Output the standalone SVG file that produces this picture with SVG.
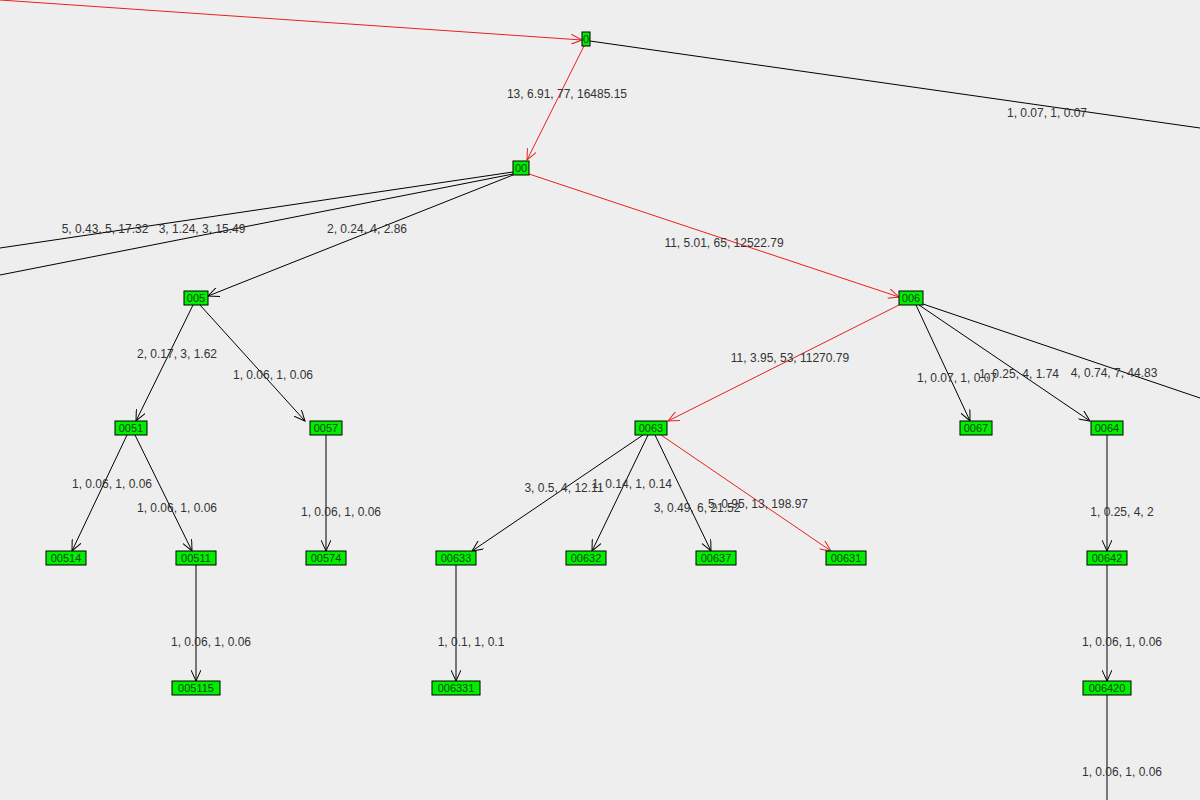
<svg xmlns="http://www.w3.org/2000/svg" width="1200" height="800" viewBox="0 0 1200 800">
<style>
.n rect{fill:#00ee00;stroke:#000;stroke-width:1}
.n text{font-family:"Liberation Sans",Arial,sans-serif;font-size:11px;fill:#114411;text-anchor:middle}
.e line{stroke:#000;stroke-width:1;fill:none}
.e line.r{stroke:#e82020}
.l{font-family:"Liberation Sans",Arial,sans-serif;font-size:12px;fill:#333;text-anchor:middle}
</style>
<defs>
<marker id="a" markerWidth="12" markerHeight="10" refX="11" refY="5" orient="auto" markerUnits="userSpaceOnUse"><path d="M0,0 L11,5 L0,10" fill="none" stroke="#000"/></marker>
<marker id="ar" markerWidth="12" markerHeight="10" refX="11" refY="5" orient="auto" markerUnits="userSpaceOnUse"><path d="M0,0 L11,5 L0,10" fill="none" stroke="#e82020"/></marker>
</defs>
<rect width="1200" height="800" fill="#eeeeee"/>
<g id="connectors" class="e">
<line class="r" x1="0" y1="0" x2="582" y2="40" marker-end="url(#ar)"/>
<line x1="590" y1="41" x2="1200" y2="128"/>
<line class="r" x1="584" y1="46" x2="527" y2="160" marker-end="url(#ar)"/>
<line x1="513" y1="172" x2="0" y2="248"/>
<line x1="513" y1="174" x2="0" y2="275"/>
<line x1="513" y1="175" x2="208" y2="296" marker-end="url(#a)"/>
<line class="r" x1="529" y1="174" x2="899" y2="297" marker-end="url(#ar)"/>
<line x1="193" y1="305" x2="136" y2="421" marker-end="url(#a)"/>
<line x1="200" y1="305" x2="305" y2="421" marker-end="url(#a)"/>
<line class="r" x1="899" y1="305" x2="668" y2="421" marker-end="url(#ar)"/>
<line x1="916" y1="305" x2="970" y2="421" marker-end="url(#a)"/>
<line x1="919" y1="305" x2="1090" y2="421" marker-end="url(#a)"/>
<line x1="923" y1="304" x2="1200" y2="398"/>
<line x1="127" y1="435" x2="72" y2="551" marker-end="url(#a)"/>
<line x1="135" y1="435" x2="192" y2="551" marker-end="url(#a)"/>
<line x1="326" y1="435" x2="326" y2="551" marker-end="url(#a)"/>
<line x1="643" y1="435" x2="472" y2="551" marker-end="url(#a)"/>
<line x1="648" y1="435" x2="592" y2="551" marker-end="url(#a)"/>
<line x1="655" y1="435" x2="711" y2="551" marker-end="url(#a)"/>
<line class="r" x1="661" y1="435" x2="831" y2="551" marker-end="url(#ar)"/>
<line x1="1107" y1="435" x2="1107" y2="551" marker-end="url(#a)"/>
<line x1="196" y1="565" x2="196" y2="681" marker-end="url(#a)"/>
<line x1="456" y1="565" x2="456" y2="681" marker-end="url(#a)"/>
<line x1="1107" y1="565" x2="1107" y2="681" marker-end="url(#a)"/>
<line x1="1107" y1="695" x2="1107" y2="800"/>
</g>
<g id="labels">
<text class="l" x="567" y="98">13, 6.91, 77, 16485.15</text>
<text class="l" x="1047" y="117">1, 0.07, 1, 0.07</text>
<text class="l" x="105" y="233">5, 0.43, 5, 17.32</text>
<text class="l" x="202" y="233">3, 1.24, 3, 15.49</text>
<text class="l" x="367" y="233">2, 0.24, 4, 2.86</text>
<text class="l" x="724" y="247">11, 5.01, 65, 12522.79</text>
<text class="l" x="177" y="358">2, 0.17, 3, 1.62</text>
<text class="l" x="273" y="379">1, 0.06, 1, 0.06</text>
<text class="l" x="790" y="362">11, 3.95, 53, 11270.79</text>
<text class="l" x="957" y="382">1, 0.07, 1, 0.07</text>
<text class="l" x="1019" y="378">1, 0.25, 4, 1.74</text>
<text class="l" x="1114" y="377">4, 0.74, 7, 44.83</text>
<text class="l" x="112" y="488">1, 0.06, 1, 0.06</text>
<text class="l" x="177" y="512">1, 0.06, 1, 0.06</text>
<text class="l" x="341" y="516">1, 0.06, 1, 0.06</text>
<text class="l" x="564" y="492">3, 0.5, 4, 12.11</text>
<text class="l" x="632" y="488">1, 0.14, 1, 0.14</text>
<text class="l" x="697" y="512">3, 0.49, 6, 21.52</text>
<text class="l" x="758" y="508">5, 0.95, 13, 198.97</text>
<text class="l" x="1122" y="516">1, 0.25, 4, 2</text>
<text class="l" x="211" y="646">1, 0.06, 1, 0.06</text>
<text class="l" x="471" y="646">1, 0.1, 1, 0.1</text>
<text class="l" x="1122" y="646">1, 0.06, 1, 0.06</text>
<text class="l" x="1122" y="776">1, 0.06, 1, 0.06</text>
</g>
<g id="n0" class="n"><rect x="582" y="32" width="8" height="14"/><text x="586" y="43">0</text></g>
<g id="n00" class="n"><rect x="513" y="161" width="16" height="14"/><text x="521" y="172">00</text></g>
<g id="n005" class="n"><rect x="184" y="291" width="24" height="14"/><text x="196" y="302">005</text></g>
<g id="n006" class="n"><rect x="899" y="291" width="24" height="14"/><text x="911" y="302">006</text></g>
<g id="n0051" class="n"><rect x="115" y="421" width="32" height="14"/><text x="131" y="432">0051</text></g>
<g id="n0057" class="n"><rect x="310" y="421" width="32" height="14"/><text x="326" y="432">0057</text></g>
<g id="n0063" class="n"><rect x="635" y="421" width="32" height="14"/><text x="651" y="432">0063</text></g>
<g id="n0067" class="n"><rect x="960" y="421" width="32" height="14"/><text x="976" y="432">0067</text></g>
<g id="n0064" class="n"><rect x="1091" y="421" width="32" height="14"/><text x="1107" y="432">0064</text></g>
<g id="n00514" class="n"><rect x="46" y="551" width="40" height="14"/><text x="66" y="562">00514</text></g>
<g id="n00511" class="n"><rect x="176" y="551" width="40" height="14"/><text x="196" y="562">00511</text></g>
<g id="n00574" class="n"><rect x="306" y="551" width="40" height="14"/><text x="326" y="562">00574</text></g>
<g id="n00633" class="n"><rect x="436" y="551" width="40" height="14"/><text x="456" y="562">00633</text></g>
<g id="n00632" class="n"><rect x="566" y="551" width="40" height="14"/><text x="586" y="562">00632</text></g>
<g id="n00637" class="n"><rect x="696" y="551" width="40" height="14"/><text x="716" y="562">00637</text></g>
<g id="n00631" class="n"><rect x="826" y="551" width="40" height="14"/><text x="846" y="562">00631</text></g>
<g id="n00642" class="n"><rect x="1087" y="551" width="40" height="14"/><text x="1107" y="562">00642</text></g>
<g id="n005115" class="n"><rect x="172" y="681" width="48" height="14"/><text x="196" y="692">005115</text></g>
<g id="n006331" class="n"><rect x="432" y="681" width="48" height="14"/><text x="456" y="692">006331</text></g>
<g id="n006420" class="n"><rect x="1083" y="681" width="48" height="14"/><text x="1107" y="692">006420</text></g>
</svg>
